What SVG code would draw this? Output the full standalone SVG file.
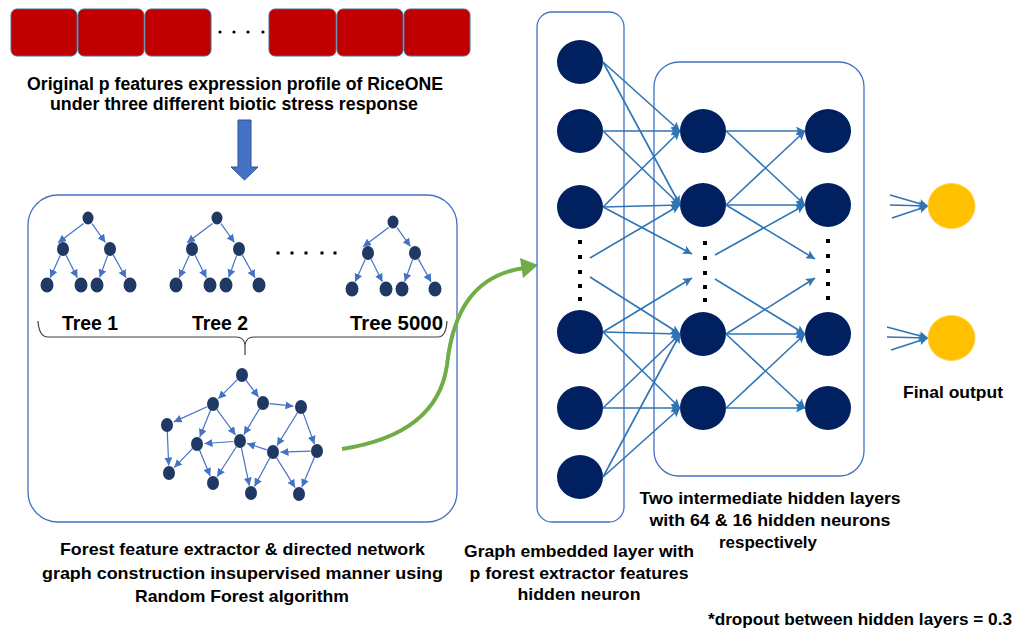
<svg xmlns="http://www.w3.org/2000/svg" width="1015" height="632" viewBox="0 0 1015 632">
<defs>
<style>
.t{font-family:"Liberation Sans",Arial,sans-serif;font-weight:bold;fill:#000;text-anchor:middle}
.feat{fill:#C00000;stroke:#41719C;stroke-width:1}
.tn{fill:#1F3864}
.te{stroke:#4472C4;stroke-width:1.2;fill:none;marker-end:url(#ta)}
.nn{fill:#002060}
.ne{stroke:#2E75B6;stroke-width:1.6;fill:none;marker-end:url(#na)}
.box{fill:none;stroke:#4472C4;stroke-width:1.3}
.dot{fill:#000}
.out{fill:#FFC000;stroke:#FFD24D;stroke-width:1}
</style>
<marker id="ta" viewBox="0 0 10 10" refX="10" refY="5" markerWidth="8" markerHeight="8" markerUnits="userSpaceOnUse" orient="auto">
<path d="M0,0 L10,5 L0,10 z" fill="#4472C4"/>
</marker>
<marker id="na" viewBox="0 0 10 10" refX="10" refY="5" markerWidth="10" markerHeight="9" markerUnits="userSpaceOnUse" orient="auto">
<path d="M0,0 L10,5 L0,10 L2,5 z" fill="#2E75B6"/>
</marker>
</defs>
<rect width="1015" height="632" fill="#fff"/>

<g id="features">
<rect class="feat" x="11" y="9" width="66" height="47" rx="6"/>
<rect class="feat" x="78" y="9" width="66" height="47" rx="6"/>
<rect class="feat" x="145" y="9" width="66" height="47" rx="6"/>
<rect class="feat" x="269" y="9" width="67" height="47" rx="6"/>
<rect class="feat" x="337" y="9" width="66" height="47" rx="6"/>
<rect class="feat" x="404" y="9" width="66" height="47" rx="6"/>
<circle class="dot" cx="220" cy="32" r="1.6"/>
<circle class="dot" cx="234" cy="32" r="1.6"/>
<circle class="dot" cx="248" cy="32" r="1.6"/>
<circle class="dot" cx="263" cy="32" r="1.6"/>
<text class="t" x="235" y="90" font-size="18" textLength="416" lengthAdjust="spacingAndGlyphs">Original p features expression profile of RiceONE</text>
<text class="t" x="234" y="110" font-size="18" textLength="368" lengthAdjust="spacingAndGlyphs">under three different biotic stress response</text>
</g>

<g id="down-arrow">
<path d="M238,120 L251,120 L251,167 L258,167 L244.5,180 L231,167 L238,167 z" fill="#4472C4" stroke="#2F528F" stroke-width="1"/>
</g>

<g id="forest-box">
<rect class="box" x="28" y="195" width="429" height="327" rx="30"/>
</g>

<g id="tree1">
<path class="te" d="M83.6,223.5 L58,242.8"/>
<path class="te" d="M92,223.7 L105.4,242.5"/>
<path class="te" d="M60.2,255.4 L50.2,277.7"/>
<path class="te" d="M66.1,255.3 L77.4,277.8"/>
<path class="te" d="M107.6,255.6 L99.7,277.5"/>
<path class="te" d="M113.4,255.1 L126.1,278"/>
<ellipse class="tn" cx="88" cy="218" rx="5.5" ry="6.5"/>
<ellipse class="tn" cx="63" cy="249" rx="6" ry="7"/>
<ellipse class="tn" cx="110" cy="249" rx="6" ry="7"/>
<ellipse class="tn" cx="47" cy="285" rx="6.5" ry="7.5"/>
<ellipse class="tn" cx="81" cy="285" rx="6.5" ry="7.5"/>
<ellipse class="tn" cx="97" cy="285" rx="6.5" ry="7.5"/>
<ellipse class="tn" cx="130" cy="285" rx="6.5" ry="7.5"/>
<text class="t" x="90" y="330" font-size="20" textLength="56" lengthAdjust="spacingAndGlyphs">Tree 1</text>
</g>

<g id="tree2" transform="translate(129,0)">
<path class="te" d="M83.6,223.5 L58,242.8"/>
<path class="te" d="M92,223.7 L105.4,242.5"/>
<path class="te" d="M60.2,255.4 L50.2,277.7"/>
<path class="te" d="M66.1,255.3 L77.4,277.8"/>
<path class="te" d="M107.6,255.6 L99.7,277.5"/>
<path class="te" d="M113.4,255.1 L126.1,278"/>
<ellipse class="tn" cx="88" cy="218" rx="5.5" ry="6.5"/>
<ellipse class="tn" cx="63" cy="249" rx="6" ry="7"/>
<ellipse class="tn" cx="110" cy="249" rx="6" ry="7"/>
<ellipse class="tn" cx="47" cy="285" rx="6.5" ry="7.5"/>
<ellipse class="tn" cx="81" cy="285" rx="6.5" ry="7.5"/>
<ellipse class="tn" cx="97" cy="285" rx="6.5" ry="7.5"/>
<ellipse class="tn" cx="130" cy="285" rx="6.5" ry="7.5"/>
<text class="t" x="91" y="330" font-size="20" textLength="56" lengthAdjust="spacingAndGlyphs">Tree 2</text>
</g>

<g id="tree-dots">
<rect class="dot" x="276.5" y="251.5" width="3" height="3"/>
<rect class="dot" x="290.5" y="251.5" width="3" height="3"/>
<rect class="dot" x="304.5" y="251.5" width="3" height="3"/>
<rect class="dot" x="320.5" y="251.5" width="3" height="3"/>
<rect class="dot" x="333.5" y="251.5" width="3" height="3"/>
</g>

<g id="tree5000" transform="translate(305,4)">
<path class="te" d="M83.6,223.5 L58,242.8"/>
<path class="te" d="M92,223.7 L105.4,242.5"/>
<path class="te" d="M60.2,255.4 L50.2,277.7"/>
<path class="te" d="M66.1,255.3 L77.4,277.8"/>
<path class="te" d="M107.6,255.6 L99.7,277.5"/>
<path class="te" d="M113.4,255.1 L126.1,278"/>
<ellipse class="tn" cx="88" cy="218" rx="5.5" ry="6.5"/>
<ellipse class="tn" cx="63" cy="249" rx="6" ry="7"/>
<ellipse class="tn" cx="110" cy="249" rx="6" ry="7"/>
<ellipse class="tn" cx="47" cy="285" rx="6.5" ry="7.5"/>
<ellipse class="tn" cx="81" cy="285" rx="6.5" ry="7.5"/>
<ellipse class="tn" cx="97" cy="285" rx="6.5" ry="7.5"/>
<ellipse class="tn" cx="130" cy="285" rx="6.5" ry="7.5"/>
</g>
<text class="t" x="396.5" y="330" font-size="20" textLength="93" lengthAdjust="spacingAndGlyphs">Tree 5000</text>

<g id="brace">
<path d="M38,321 Q39,337 48,337 L236,337 Q244,337 245,345 L245,355 M245,345 Q246,337 254,337 L438,337 Q446,337 447,321" fill="none" stroke="#404040" stroke-width="1.2"/>
</g>

<g id="graph">
<path class="te" d="M237.4,379.6 L218.3,398.7"/>
<path class="te" d="M245.9,380.2 L258.5,397"/>
<path class="te" d="M207.1,406.7 L173.8,421.9"/>
<path class="te" d="M210.6,410 L199.8,437"/>
<path class="te" d="M216.8,409.3 L235.6,435"/>
<path class="te" d="M259.6,408.6 L243.9,434.6"/>
<path class="te" d="M269.5,403.7 L293.5,406.2"/>
<path class="te" d="M297.6,412.5 L277,445.6"/>
<path class="te" d="M303.2,413.1 L314.4,444"/>
<path class="te" d="M167.3,431.5 L168.7,465.5"/>
<path class="te" d="M192.5,448.7 L174.2,467.6"/>
<path class="te" d="M199.5,450 L210.2,476.1"/>
<path class="te" d="M233.5,441.5 L204.5,443.5"/>
<path class="te" d="M236.5,446.5 L217.1,476.7"/>
<path class="te" d="M241.3,447.4 L249.4,485.7"/>
<path class="te" d="M266.8,449.9 L247.1,443.4"/>
<path class="te" d="M269.9,457.7 L254.5,486.4"/>
<path class="te" d="M276.4,457.5 L295.1,487.6"/>
<path class="te" d="M310.5,451.1 L280.5,452.2"/>
<path class="te" d="M314.5,457 L301.9,487.1"/>
<ellipse class="tn" cx="242" cy="375" rx="6" ry="7"/>
<ellipse class="tn" cx="213" cy="404" rx="6" ry="7"/>
<ellipse class="tn" cx="263" cy="403" rx="6" ry="7"/>
<ellipse class="tn" cx="301" cy="407" rx="6" ry="7"/>
<ellipse class="tn" cx="167" cy="425" rx="6" ry="7"/>
<ellipse class="tn" cx="197" cy="444" rx="6" ry="7"/>
<ellipse class="tn" cx="240" cy="441" rx="6" ry="7"/>
<ellipse class="tn" cx="273" cy="452" rx="6" ry="7"/>
<ellipse class="tn" cx="317" cy="451" rx="6" ry="7"/>
<ellipse class="tn" cx="169" cy="473" rx="6" ry="7"/>
<ellipse class="tn" cx="213" cy="483" rx="6" ry="7"/>
<ellipse class="tn" cx="251" cy="493" rx="6" ry="7"/>
<ellipse class="tn" cx="299" cy="494" rx="6" ry="7"/>
</g>

<g id="forest-caption">
<text class="t" x="242.5" y="555" font-size="17" textLength="365" lengthAdjust="spacingAndGlyphs">Forest feature extractor &amp; directed network</text>
<text class="t" x="242.5" y="579" font-size="17" textLength="401" lengthAdjust="spacingAndGlyphs">graph construction insupervised manner using</text>
<text class="t" x="242" y="602" font-size="17" textLength="214" lengthAdjust="spacingAndGlyphs">Random Forest algorithm</text>
</g>

<g id="green-arrow">
<path d="M342,449 C400,440 440,415 447,365 C453,310 475,275 524,268" fill="none" stroke="#70AD47" stroke-width="4"/>
<path d="M538,265 L520,258 L523,278 z" fill="#70AD47"/>
</g>

<g id="embed-layer">
<rect class="box" x="537" y="12" width="87" height="510" rx="15"/>
<ellipse class="nn" cx="580" cy="62" rx="23" ry="22"/>
<ellipse class="nn" cx="580" cy="131" rx="23" ry="22"/>
<ellipse class="nn" cx="580" cy="207" rx="23" ry="22"/>
<ellipse class="nn" cx="580" cy="332" rx="23" ry="22"/>
<ellipse class="nn" cx="580" cy="408" rx="23" ry="22"/>
<ellipse class="nn" cx="580" cy="477" rx="23" ry="22"/>
<rect class="dot" x="578" y="240" width="4" height="4"/>
<rect class="dot" x="578" y="255" width="4" height="4"/>
<rect class="dot" x="578" y="270" width="4" height="4"/>
<rect class="dot" x="578" y="284" width="4" height="4"/>
<rect class="dot" x="578" y="297" width="4" height="4"/>
</g>

<g id="hidden-layers">
<rect class="box" x="654" y="62" width="210" height="414" rx="25"/>
<ellipse class="nn" cx="703" cy="131" rx="23" ry="22"/>
<ellipse class="nn" cx="703" cy="205" rx="23" ry="22"/>
<ellipse class="nn" cx="703" cy="334" rx="23" ry="22"/>
<ellipse class="nn" cx="703" cy="408" rx="23" ry="22"/>
<ellipse class="nn" cx="828" cy="131" rx="23" ry="22"/>
<ellipse class="nn" cx="828" cy="205" rx="23" ry="22"/>
<ellipse class="nn" cx="828" cy="334" rx="23" ry="22"/>
<ellipse class="nn" cx="828" cy="408" rx="23" ry="22"/>
<rect class="dot" x="703" y="241" width="4" height="4"/>
<rect class="dot" x="703" y="256" width="4" height="4"/>
<rect class="dot" x="703" y="271" width="4" height="4"/>
<rect class="dot" x="703" y="285" width="4" height="4"/>
<rect class="dot" x="703" y="298" width="4" height="4"/>
<rect class="dot" x="826" y="239" width="4" height="4"/>
<rect class="dot" x="826" y="254" width="4" height="4"/>
<rect class="dot" x="826" y="269" width="4" height="4"/>
<rect class="dot" x="826" y="282" width="4" height="4"/>
<rect class="dot" x="826" y="296" width="4" height="4"/>
</g>

<g id="connectors">
<path class="ne" d="M603,62 L680,131"/>
<path class="ne" d="M603,62 L680,205"/>
<path class="ne" d="M603,131 L680,131"/>
<path class="ne" d="M603,131 L680,205"/>
<path class="ne" d="M603,207 L680,131"/>
<path class="ne" d="M603,207 L680,205"/>
<path class="ne" d="M603,207 L692,254"/>
<path class="ne" d="M590,258 L680,205"/>
<path class="ne" d="M590,277 L680,334"/>
<path class="ne" d="M603,332 L692,278"/>
<path class="ne" d="M603,332 L680,334"/>
<path class="ne" d="M603,332 L680,408"/>
<path class="ne" d="M603,408 L680,334"/>
<path class="ne" d="M603,408 L680,408"/>
<path class="ne" d="M603,477 L680,334"/>
<path class="ne" d="M603,477 L680,408"/>
<path class="ne" d="M726,131 L805,131"/>
<path class="ne" d="M726,131 L805,205"/>
<path class="ne" d="M726,205 L805,131"/>
<path class="ne" d="M726,205 L805,205"/>
<path class="ne" d="M726,205 L815,259"/>
<path class="ne" d="M715,255 L805,205"/>
<path class="ne" d="M715,279 L805,334"/>
<path class="ne" d="M726,334 L815,278"/>
<path class="ne" d="M726,334 L805,334"/>
<path class="ne" d="M726,334 L805,408"/>
<path class="ne" d="M726,408 L805,334"/>
<path class="ne" d="M726,408 L805,408"/>
<path class="ne" d="M890,195 L928,206"/>
<path class="ne" d="M890,205 L928,206"/>
<path class="ne" d="M892,218 L928,206"/>
<path class="ne" d="M887,327 L928,338"/>
<path class="ne" d="M887,337 L928,338"/>
<path class="ne" d="M891,350 L928,338"/>
</g>

<g id="outputs">
<ellipse class="out" cx="951.5" cy="206" rx="23.5" ry="22.5"/>
<ellipse class="out" cx="951.5" cy="338" rx="23.5" ry="22.5"/>
<text class="t" x="953" y="398" font-size="17" textLength="100" lengthAdjust="spacingAndGlyphs">Final output</text>
</g>

<g id="captions">
<text class="t" x="770" y="504" font-size="17" textLength="261" lengthAdjust="spacingAndGlyphs">Two intermediate hidden layers</text>
<text class="t" x="770" y="526" font-size="17" textLength="241" lengthAdjust="spacingAndGlyphs">with 64 &amp; 16 hidden neurons</text>
<text class="t" x="768" y="548" font-size="17" textLength="98" lengthAdjust="spacingAndGlyphs">respectively</text>
<text class="t" x="579" y="557" font-size="17" textLength="230" lengthAdjust="spacingAndGlyphs">Graph embedded layer with</text>
<text class="t" x="579" y="579" font-size="17" textLength="219" lengthAdjust="spacingAndGlyphs">p forest extractor features</text>
<text class="t" x="579" y="600" font-size="17" textLength="123" lengthAdjust="spacingAndGlyphs">hidden neuron</text>
<text class="t" x="860" y="625" font-size="17" textLength="304" lengthAdjust="spacingAndGlyphs">*dropout between hidden layers = 0.3</text>
</g>
</svg>
